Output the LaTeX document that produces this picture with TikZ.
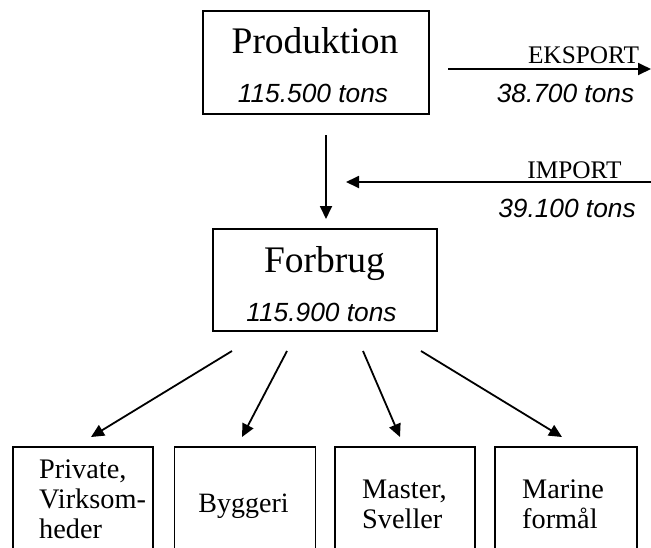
\documentclass[tikz,border=0pt]{standalone}
\usepackage{fontspec}
\setmainfont{Liberation Serif}
\newfontfamily\arialfont{Liberation Sans}
\usetikzlibrary{arrows.meta}
\begin{document}
\begin{tikzpicture}[x=1pt,y=-1pt,
  box/.style={draw,line width=1.5pt,inner sep=0pt},
  serifbig/.style={font=\fontsize{37.5}{40}\selectfont, inner sep=0pt, anchor=base},
  tons/.style={font=\arialfont\itshape\fontsize{26.3}{28}\selectfont, inner sep=0pt, anchor=base},
  flowlabel/.style={font=\fontsize{25.3}{28}\selectfont, inner sep=0pt, anchor=base},
  leaf/.style={font=\fontsize{28.3}{31}\selectfont, inner sep=0pt, anchor=base west},
  leafc/.style={font=\fontsize{28}{31}\selectfont, inner sep=0pt, anchor=base},
  flow/.style={line width=1.8pt, -{Triangle[length=13pt,width=12pt]}},
]
\clip (0,0) rectangle (651,547);

% boxes
\node[box, minimum width=226pt, minimum height=103pt] (prod) at (316,62.5) {};
\node[box, minimum width=224pt, minimum height=102pt] (forb) at (325,280) {};
\node[box, minimum width=140pt, minimum height=123pt] (priv) at (83,508.5) {};
\node[box, minimum width=141pt, minimum height=123pt] (bygg) at (245,508.5) {};
\node[box, minimum width=140pt, minimum height=123pt] (mast) at (405,508.5) {};
\node[box, minimum width=142pt, minimum height=123pt] (mar) at (566,508.5) {};

% texts
\node[serifbig] (prodtitle) at (315,53) {Produktion};
\node[tons] (prodtons) at (313,102) {115.500 tons};
\node[serifbig] (forbtitle) at (324.5,272) {Forbrug};
\node[tons] (forbtons) at (321.5,321) {115.900 tons};
\node[flowlabel] (eksport) at (583.5,63) {EKSPORT};
\node[tons] (eksporttons) at (565.5,102) {38.700 tons};
\node[flowlabel] (import) at (574.5,178) {IMPORT};
\node[tons] (importtons) at (567,217) {39.100 tons};

\node[leaf] (priv1) at (39,478) {Private,};
\node[leaf] (priv2) at (39,508) {Virksom-};
\node[leaf] (priv3) at (39,538) {heder};
\node[leafc] (bygg1) at (243.5,512) {Byggeri};
\node[leaf] (mast1) at (362,498) {Master,};
\node[leaf] (mast2) at (362,528) {Sveller};
\node[leaf] (mar1) at (522,498) {Marine};
\node[leaf] (mar2) at (522,528) {formål};

% connector ends
\coordinate (d1) at (326,135);
\coordinate (d2) at (326,219);
\coordinate (e1) at (448,69);
\coordinate (e2) at (651,69);
\coordinate (i1) at (651,182);
\coordinate (i2) at (346,182);
\coordinate (s1) at (232,351);
\coordinate (s2) at (287,351);
\coordinate (s3) at (363,351);
\coordinate (s4) at (421,351);
\coordinate (t1) at (91,437);
\coordinate (t2) at (242,437);
\coordinate (t3) at (400,437);
\coordinate (t4) at (562,437);

\draw[flow] (d1) -- (d2);
\draw[flow] (e1) -- (e2);
\draw[flow] (i1) -- (i2);
\draw[flow] (s1) -- (t1);
\draw[flow] (s2) -- (t2);
\draw[flow] (s3) -- (t3);
\draw[flow] (s4) -- (t4);
\end{tikzpicture}
\end{document}
